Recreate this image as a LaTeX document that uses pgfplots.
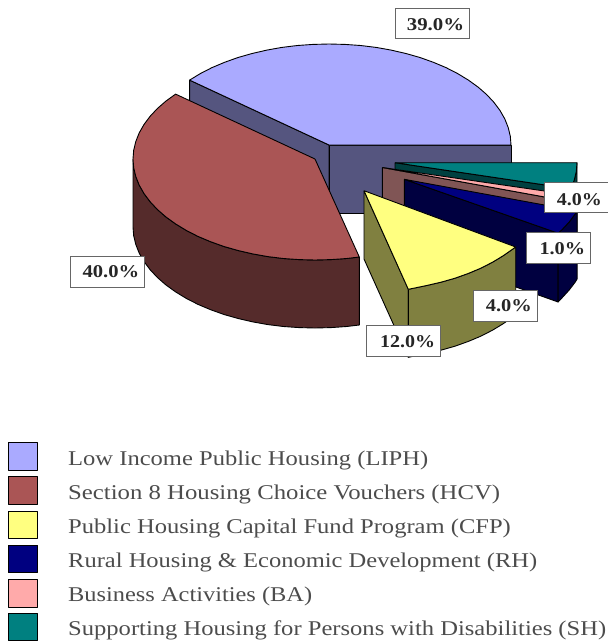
\documentclass[border=0pt]{standalone}
\usepackage{graphicx}
\usepackage{fontspec}
\setmainfont{Liberation Serif}
\usepackage{pgfplots}
\pgfplotsset{compat=1.18}
\definecolor{cBlue}{HTML}{AAAAFF}\definecolor{cBlueD}{HTML}{55557F}
\definecolor{cRed}{HTML}{AA5555}\definecolor{cRedD}{HTML}{552B2B}
\definecolor{cYel}{HTML}{FFFF80}\definecolor{cYelD}{HTML}{808040}
\definecolor{cNav}{HTML}{000080}\definecolor{cNavD}{HTML}{000040}
\definecolor{cPnk}{HTML}{FFAAAA}\definecolor{cPnkD}{HTML}{805555}
\definecolor{cTea}{HTML}{008080}\definecolor{cTeaD}{HTML}{004040}
\newcommand{\fit}[4]{\node[anchor=base west,inner sep=0pt,text=black!85] at (axis cs:#1,#2) {\resizebox{#3pt}{\height}{\fontsize{18}{20}\selectfont\bfseries #4}};}
\newcommand{\leg}[4]{\node[anchor=base west,inner sep=0pt,text=black!70] at (axis cs:#1,#2) {\resizebox{#3pt}{\height}{\fontsize{21}{24}\selectfont #4}};}
\pgfplotsset{poly/.style={draw=black,line width=0.9pt,line join=round,mark=none},
 lab/.style={draw=black!60,line width=1pt,fill=white,mark=none}}
\begin{document}
\begin{tikzpicture}
\begin{axis}[name=ax,x=1pt,y=1pt,xmin=0,xmax=608,ymin=0,ymax=641,y dir=reverse,axis lines=none,enlargelimits=false]
% Low income public housing
\addplot[poly,fill=cBlueD] coordinates {(189.6,80.1)(329,145)(329,213)(189.6,148)(189.6,80.1)};
\addplot[poly,fill=cBlueD] coordinates {(329,145)(511,145)(511,213)(329,213)(329,145)};
\addplot[poly,fill=cBlue] coordinates {(329,145)(189.6,80.1)(200.3,73.6)(212,67.6)(224.6,62.3)(238,57.5)(252.1,53.5)(266.8,50.1)(281.9,47.4)(297.4,45.5)(313.1,44.4)(329,44)(344.9,44.4)(360.6,45.5)(376.1,47.4)(391.2,50.1)(405.9,53.5)(420,57.5)(433.4,62.3)(446,67.6)(457.7,73.6)(468.4,80.1)(478.1,87.1)(486.6,94.5)(493.9,102.3)(500,110.5)(504.8,118.9)(508.2,127.5)(510.3,136.2)(511,145)(329,145)};
% Section 8
\addplot[poly,fill=cRedD] coordinates {(133,159)(133.7,167.8)(135.8,176.5)(139.2,185.1)(144,193.5)(150.1,201.7)(157.4,209.5)(165.9,216.9)(175.6,223.9)(186.3,230.4)(198,236.4)(210.6,241.7)(224,246.5)(238.1,250.5)(252.8,253.9)(267.9,256.6)(283.4,258.5)(299.1,259.6)(315,260)(330.9,259.6)(346.6,258.5)(359.3,257)(359.3,325)(346.6,326.5)(330.9,327.6)(315,328)(299.1,327.6)(283.4,326.5)(267.9,324.6)(252.8,321.9)(238.1,318.5)(224,314.5)(210.6,309.7)(198,304.4)(186.3,298.4)(175.6,291.9)(165.9,284.9)(157.4,277.5)(150.1,269.7)(144,261.5)(139.2,253.1)(135.8,244.5)(133.7,235.8)(133,227)(133,159)};
\addplot[poly,fill=cRed] coordinates {(315,159)(175.6,94.1)(165.9,101.1)(157.4,108.5)(150.1,116.3)(144,124.5)(139.2,132.9)(135.8,141.5)(133.7,150.2)(133,159)(133.7,167.8)(135.8,176.5)(139.2,185.1)(144,193.5)(150.1,201.7)(157.4,209.5)(165.9,216.9)(175.6,223.9)(186.3,230.4)(198,236.4)(210.6,241.7)(224,246.5)(238.1,250.5)(252.8,253.9)(267.9,256.6)(283.4,258.5)(299.1,259.6)(315,260)(330.9,259.6)(346.6,258.5)(359.3,257)(315,159)};
% Supporting housing
\addplot[poly,fill=cTeaD] coordinates {(395,162.7)(570.8,188.8)(570.8,256.8)(395,230.7)(395,162.7)};
\addplot[poly,fill=cTeaD] coordinates {(577,162.7)(576.3,171.5)(574.2,180.2)(570.8,188.8)(570.8,256.8)(574.2,248.2)(576.3,239.5)(577,230.7)(577,162.7)};
\addplot[poly,fill=cTea] coordinates {(395,162.7)(577,162.7)(576.3,171.5)(574.2,180.2)(570.8,188.8)(395,162.7)};
% Business activities
\addplot[poly,fill=cPnkD] coordinates {(382.3,167.5)(555.8,199)(555.8,267)(382.3,235.5)(382.3,167.5)};
\addplot[poly,fill=cPnk] coordinates {(382.3,167.5)(558.3,193)(557.5,196)(555.8,199)(382.3,167.5)};
% Rural housing
\addplot[poly,fill=cNavD] coordinates {(404.3,179.3)(558.1,233.2)(558.1,302)(404.3,247.3)(404.3,179.3)};
\addplot[poly,fill=cNavD] coordinates {(577.1,211)(575.3,213.8)(569.2,222)(561.9,229.8)(558.1,233.2)(558.1,302)(561.9,298)(569.2,290)(575.3,282)(577.1,279)(577.1,211)};
\addplot[poly,fill=cNav] coordinates {(404.3,179.3)(577.1,211)(575.3,213.8)(569.2,222)(561.9,229.8)(558.1,233.2)(404.3,179.3)};
% Capital fund
\addplot[poly,fill=cYelD] coordinates {(364,190.7)(408.3,289.3)(408.3,357.3)(364,259)(364,190.7)};
\addplot[poly,fill=cYelD] coordinates {(408.3,289.3)(426.2,285.6)(440.9,282.2)(455,278.2)(468.4,273.4)(481,268.1)(492.7,262.1)(503.4,255.6)(515.7,247)(515.7,315)(503.4,323.6)(492.7,330.1)(481,336.1)(468.4,341.4)(455,346.2)(440.9,350.2)(426.2,353.6)(408.3,357.3)(408.3,289.3)};
\addplot[poly,fill=cYel] coordinates {(364,190.7)(408.3,289.3)(426.2,285.6)(440.9,282.2)(455,278.2)(468.4,273.4)(481,268.1)(492.7,262.1)(503.4,255.6)(515.7,247)(364,190.7)};
% Label boxes
\addplot[lab] coordinates {(395.3,8)(469.3,8)(469.3,38.7)(395.3,38.7)(395.3,8)};
\addplot[lab] coordinates {(544,182.3)(609,182.3)(609,212.3)(544,212.3)(544,182.3)};
\addplot[lab] coordinates {(526,232.3)(590.7,232.3)(590.7,263.3)(526,263.3)(526,232.3)};
\addplot[lab] coordinates {(473.3,290.3)(537.7,290.3)(537.7,321)(473.3,321)(473.3,290.3)};
\addplot[lab] coordinates {(366,325.7)(440.3,325.7)(440.3,356.3)(366,356.3)(366,325.7)};
\addplot[lab] coordinates {(70,256.3)(144.7,256.3)(144.7,287.3)(70,287.3)(70,256.3)};
\fit{406.7}{30.7}{57.3}{39.0\%}
\fit{556.7}{205}{45}{4.0\%}
\fit{539.3}{254.3}{45.7}{1.0\%}
\fit{485.7}{311.7}{46}{4.0\%}
\fit{380}{347.7}{55}{12.0\%}
\fit{82.3}{277.7}{56.7}{40.0\%}
% Legend swatches
\addplot[poly,fill=cBlue] coordinates {(8,442.7)(37.7,442.7)(37.7,470)(8,470)(8,442.7)};
\addplot[poly,fill=cRed] coordinates {(8,476.7)(37.7,476.7)(37.7,504)(8,504)(8,476.7)};
\addplot[poly,fill=cYel] coordinates {(8,511)(37.7,511)(37.7,538)(8,538)(8,511)};
\addplot[poly,fill=cNav] coordinates {(8,545)(37.7,545)(37.7,572.7)(8,572.7)(8,545)};
\addplot[poly,fill=cPnk] coordinates {(8,579.3)(37.7,579.3)(37.7,607)(8,607)(8,579.3)};
\addplot[poly,fill=cTea] coordinates {(8,613.3)(37.7,613.3)(37.7,640.5)(8,640.5)(8,613.3)};
\leg{68}{465}{360}{Low Income Public Housing (LIPH)}
\leg{68}{499}{432}{Section 8 Housing Choice Vouchers (HCV)}
\leg{68}{533}{442.7}{Public Housing Capital Fund Program (CFP)}
\leg{68}{567.7}{469}{Rural Housing \& Economic Development (RH)}
\leg{68}{601.7}{244}{Business Activities (BA)}
\leg{68}{635.7}{538}{Supporting Housing for Persons with Disabilities (SH)}
\end{axis}
\pgfresetboundingbox
\path[use as bounding box] (ax.south west) rectangle (ax.north east);
\end{tikzpicture}
\end{document}
